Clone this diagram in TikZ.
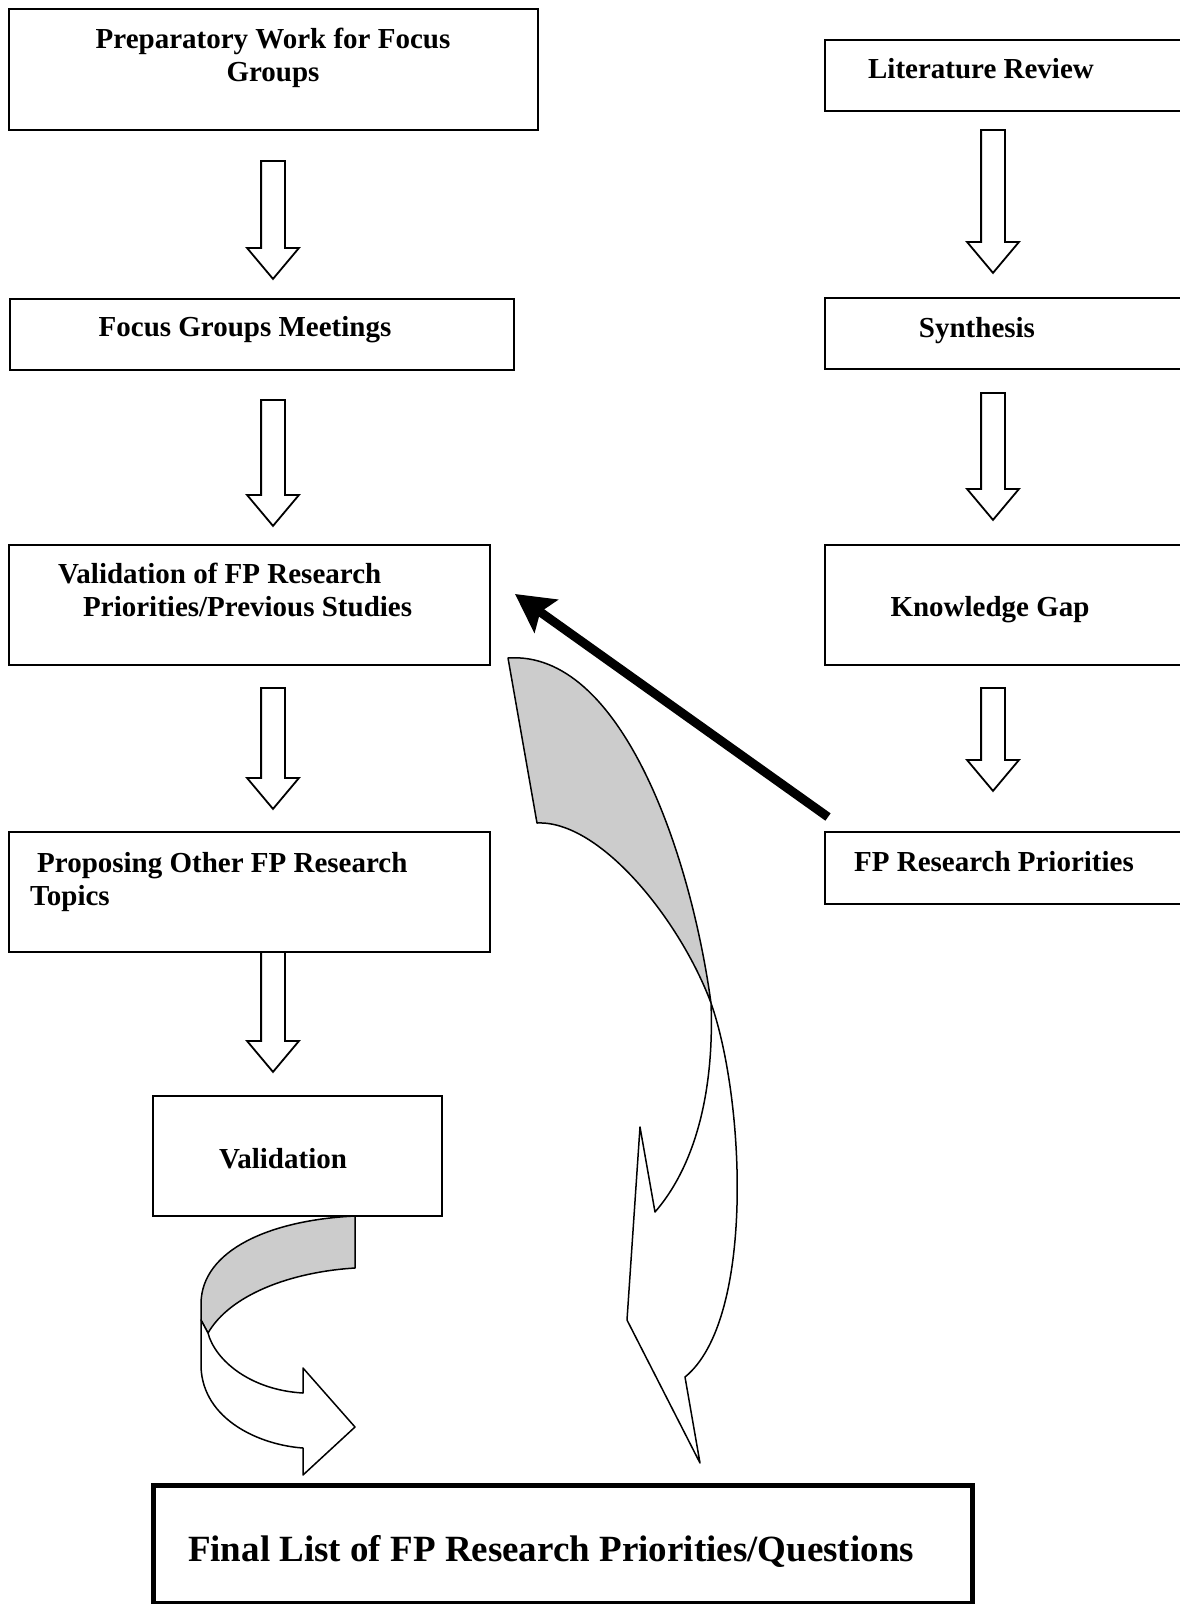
\documentclass[tikz,border=0pt]{standalone}
\usepackage{fontspec}
\setmainfont{Liberation Serif}
\usetikzlibrary{calc, arrows.meta, shapes.arrows}
\usepackage{xcolor}
\definecolor{ribbon}{RGB}{204,204,204}

\begin{document}
\begin{tikzpicture}[x=1pt, y=-1pt,
    box/.style={draw, line width=2pt, rectangle, anchor=north west, inner sep=0pt},
    txt/.style={font=\fontsize{29}{33}\selectfont\bfseries, inner sep=0pt},
    downarrow/.style={single arrow, draw, line width=1.8pt, rotate=-90, anchor=tail,
        text height=22pt, text depth=0pt, single arrow head extend=14pt,
        single arrow tip angle=80, inner sep=0pt},
    ribbonback/.style={draw, line width=1.5pt, fill=ribbon, line join=round},
    ribbonfront/.style={draw, line width=1.5pt, fill=white, line join=round}]

    \useasboundingbox (0,0) rectangle (1179,1604);

    % 1. Boxes of the left column (focus groups)
    \node[box, minimum width=529pt, minimum height=121pt] (prep) at (8,8) {};
    \node[box, minimum width=504pt, minimum height=71pt] (meet) at (9,298) {};
    \node[box, minimum width=481pt, minimum height=120pt] (valid) at (8,544) {};
    \node[box, minimum width=481pt, minimum height=120pt] (prop) at (8,831) {};
    \node[box, minimum width=289pt, minimum height=120pt] (check) at (152,1095) {};

    % 2. Boxes of the right column (literature)
    \node[box, minimum width=361pt, minimum height=71pt] (lit) at (824,39) {};
    \node[box, minimum width=361pt, minimum height=71pt] (synth) at (824,297) {};
    \node[box, minimum width=361pt, minimum height=120pt] (gap) at (824,544) {};
    \node[box, minimum width=361pt, minimum height=72pt] (prio) at (824,831) {};

    % 3. Final box at the bottom
    \node[box, line width=5pt, minimum width=819pt, minimum height=118pt] (final) at (151,1483) {};

    % 4. Texts (two-line texts sit on the baseline of their last line)
    \node[txt, anchor=base, align=center] (prep-t) at (273,81) {Preparatory Work for Focus\\Groups};
    \node[txt, anchor=base] (meet-t) at (245,336) {Focus Groups Meetings};
    \node[txt, anchor=base west, align=left] (valid-t) at (58,616)
        {Validation of FP Research\\\hspace*{25pt}Priorities/Previous Studies};
    \node[txt, anchor=base west, align=left] (prop-t) at (30,905)
        {\hspace*{7pt}Proposing Other FP Research\\Topics};
    \node[txt, anchor=base] (check-t) at (283,1168) {Validation};
    \node[txt, anchor=base] (lit-t) at (981,78) {Literature Review};
    \node[txt, anchor=base] (synth-t) at (977,337) {Synthesis};
    \node[txt, anchor=base] (gap-t) at (990,616) {Knowledge Gap};
    \node[txt, anchor=base] (prio-t) at (994,871) {FP Research Priorities};
    \node[txt, font=\fontsize{37}{42}\selectfont\bfseries, anchor=base] (final-t) at (551,1561)
        {Final List of FP Research Priorities/Questions};

    % 5. Block arrows between the boxes
    \node[downarrow, minimum height=118pt] (a1) at (273,160) {};
    \node[downarrow, minimum height=126pt] (a2) at (273,399) {};
    \node[downarrow, minimum height=121pt] (a3) at (273,687) {};
    \node[downarrow, minimum height=120pt] (a4) at (273,951) {};
    \node[downarrow, minimum height=143pt] (b1) at (993,129) {};
    \node[downarrow, minimum height=127pt] (b2) at (993,392) {};
    \node[downarrow, minimum height=103pt] (b3) at (993,687) {};

    % 6. Thick arrow from the priorities back to the validation
    \draw[line width=9pt, -{Stealth[length=38pt, width=40pt, inset=7pt]}]
        ($(prio.north west)+(4,-14)$) -- ($(valid.east)+(24,-11)$);

    % 7. Curved arrow under the validation box
    \draw[ribbonback] (355,1216) .. controls (270,1220) and (202,1250) .. (201,1303)
        -- (201,1320) -- (208,1333) .. controls (230,1295) and (290,1272) .. (355,1268) -- cycle;
    \draw[ribbonfront] (201,1320) -- (201,1367) .. controls (203,1420) and (260,1445) .. (303,1448)
        -- (303,1475) -- (355,1427) -- (303,1368) -- (303,1393)
        .. controls (250,1390) and (215,1360) .. (208,1333) -- cycle;

    % 8. Big curved arrow down to the final list
    \draw[ribbonback] (508,658) .. controls (620,650) and (690,850) .. (711,1003)
        .. controls (680,920) and (600,820) .. (537,823) -- cycle;
    \draw[ribbonfront] (711,1003) .. controls (714,1080) and (700,1160) .. (655,1212)
        -- (640,1127) -- (627,1320) -- (700,1463) -- (685,1377)
        .. controls (755,1320) and (745,1100) .. (711,1003) -- cycle;
\end{tikzpicture}
\end{document}
